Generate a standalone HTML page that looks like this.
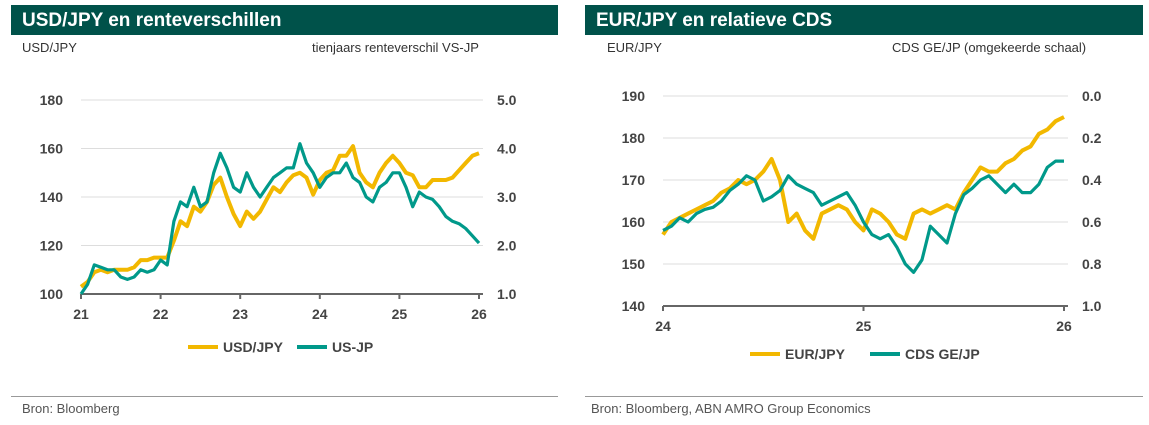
<!DOCTYPE html>
<html><head><meta charset="utf-8"><style>
body{margin:0;width:1149px;height:425px;background:#fff;font-family:"Liberation Sans",sans-serif;overflow:hidden;position:relative}
.hdr{position:absolute;top:5px;height:30px;background:#00524a;color:#fff;font-weight:bold;font-size:19px;line-height:31px;padding-left:11px;box-sizing:border-box}
.t{position:absolute;font-size:13px;color:#333}
.src{position:absolute;top:401px;font-size:13px;color:#555}
.sep{position:absolute;top:396px;height:1px;background:#999}
</style></head><body>
<div class="hdr" style="left:11px;width:547px">USD/JPY en renteverschillen</div>
<div class="hdr" style="left:585px;width:558px">EUR/JPY en relatieve CDS</div>
<div class="t" style="left:22px;top:40px">USD/JPY</div>
<div class="t" style="left:312px;top:40px">tienjaars renteverschil VS-JP</div>
<div class="t" style="left:607px;top:40px">EUR/JPY</div>
<div class="t" style="left:892px;top:40px">CDS GE/JP (omgekeerde schaal)</div>
<div class="sep" style="left:11px;width:547px"></div>
<div class="sep" style="left:585px;width:558px"></div>
<div class="src" style="left:22px">Bron: Bloomberg</div>
<div class="src" style="left:591px">Bron: Bloomberg, ABN AMRO Group Economics</div>
<svg id="svg" width="1149" height="425" style="position:absolute;left:0;top:0"></svg>
<script>
const usdjpy=[103,105,109,110,109,110,110,110,111,114,114,115,115,115,122,130,128,136,134,138,145,148,140,133,128,134,131,134,139,144,142,146,149,150,148,141,147,150,151,157,157,161,150,146,144,150,154,157,154,150,149,144,144,147,147,147,148,151,154,157,158];
const usjp=[1.0,1.2,1.6,1.55,1.5,1.5,1.35,1.3,1.35,1.5,1.45,1.5,1.7,1.6,2.5,2.9,2.8,3.2,2.8,2.9,3.5,3.9,3.6,3.2,3.1,3.5,3.2,3.0,3.2,3.4,3.5,3.6,3.6,4.1,3.7,3.5,3.2,3.4,3.5,3.5,3.7,3.4,3.3,3.0,2.9,3.2,3.3,3.5,3.5,3.2,2.8,3.1,3.0,2.95,2.8,2.6,2.5,2.45,2.35,2.2,2.05];
const eurjpy=[157,160,161,162,163,164,165,167,168,170,169,170,172,175,170,160,162,158,156,162,163,164,163,160,158,163,162,160,157,156,162,163,162,163,164,163,167,170,173,172,172,174,175,177,178,181,182,184,185];
const cds=[0.64,0.62,0.58,0.6,0.56,0.54,0.53,0.5,0.45,0.42,0.38,0.4,0.5,0.48,0.45,0.38,0.42,0.44,0.46,0.52,0.5,0.48,0.46,0.52,0.6,0.66,0.68,0.66,0.72,0.8,0.84,0.78,0.62,0.66,0.7,0.56,0.47,0.44,0.4,0.38,0.42,0.46,0.42,0.46,0.46,0.42,0.34,0.31,0.31];
const lTicks=[100,120,140,160,180], lRTicks=["1.0","2.0","3.0","4.0","5.0"], lX=["21","22","23","24","25","26"];
const rTicks=[140,150,160,170,180,190], rRTicks=["1.0","0.8","0.6","0.4","0.2","0.0"], rX=["24","25","26"];
const NS="http://www.w3.org/2000/svg", svg=document.getElementById('svg');
function mk(tag,at,txt){const e=document.createElementNS(NS,tag);for(const k in at)e.setAttribute(k,at[k]);if(txt!=null)e.textContent=txt;svg.appendChild(e);return e;}
const Y='#f2b800',G='#00998a',TX='#444';
function chart(o){
  const xs=v=>o.x0+(v-o.xmin)/(o.xmax-o.xmin)*(o.x1-o.x0);
  const ys=v=>o.y1-(v-o.ymin)/(o.ymax-o.ymin)*(o.y1-o.y0);
  o.ticks.forEach((t,i)=>{const y=ys(t);
    const g=mk('line',{x1:o.x0,x2:o.x1+4,y1:y,y2:y,stroke:i==0?'#666':'#ddd','stroke-width':i==0?2:1});
    
    const a=mk('text',{x:o.x0-18,y:y+5,'text-anchor':'end','font-size':14,fill:TX,'font-weight':'bold'},t);
    
    const b=mk('text',{x:o.x1+18,y:y+5,'font-size':14,fill:TX,'font-weight':'bold'},o.rticks[i]);
    });
  o.xl.forEach((l,i)=>{const x=xs(o.xmin+i*o.xstep);
    mk('line',{x1:x,x2:x,y1:o.y1,y2:o.y1+5,stroke:'#666','stroke-width':2});
    const t=mk('text',{x:x,y:o.y1+25,'text-anchor':'middle','font-size':14,fill:TX,'font-weight':'bold'},l);
    });
  const line=(arr,conv,col,w,name)=>{const d=arr.map((v,i)=>(i?'L':'M')+xs(o.xmin+i*o.dt).toFixed(1)+','+ys(conv(v)).toFixed(1)).join('');
    const p=mk('path',{d:d,fill:'none',stroke:col,'stroke-width':w,'stroke-linejoin':'round'});
    };
  line(o.s1,v=>v,Y,4,o.p+'-series-1');
  line(o.s2,o.c2,G,3.2,o.p+'-series-2');
  o.leg.forEach((l,i)=>{const lx=o.lx[i];
    mk('line',{x1:lx,x2:lx+30,y1:o.ly,y2:o.ly,stroke:i?G:Y,'stroke-width':4});
    const t=mk('text',{x:lx+35,y:o.ly+5,'font-size':14,fill:TX,'font-weight':'bold'},l);
    });
}
chart({p:'left',x0:81,x1:479,y0:100,y1:294,xmin:21,xmax:26,xstep:1,dt:1/12,ymin:100,ymax:180,ticks:lTicks,rticks:lRTicks,xl:lX,
  s1:usdjpy,s2:usjp,c2:v=>100+(v-1)*20,leg:['USD/JPY','US-JP'],lx:[188,297],ly:347});
chart({p:'right',x0:663,x1:1064,y0:96,y1:306,xmin:24,xmax:26,xstep:1,dt:1/24,ymin:140,ymax:190,ticks:rTicks,rticks:rRTicks,xl:rX,
  s1:eurjpy,s2:cds,c2:v=>190-50*v,leg:['EUR/JPY','CDS GE/JP'],lx:[750,870],ly:354});
</script>
</body></html>
